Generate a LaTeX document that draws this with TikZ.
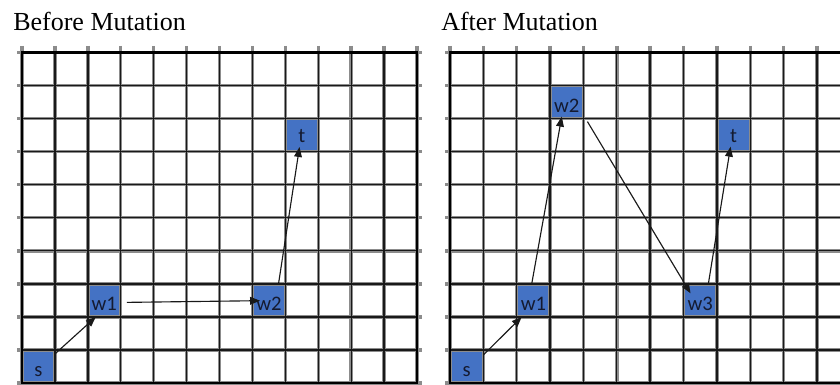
\documentclass[tikz,border=0pt]{standalone}
\usepackage{fontspec}
\setmainfont{Liberation Serif}
\newfontfamily\cellfont{Carlito}
\usetikzlibrary{arrows.meta}
\definecolor{cellblue}{HTML}{4472C4}
\definecolor{celltext}{HTML}{141A30}

% grid of 12 x 10 cells: #1 = left edge, #2 = cell width
\newcommand{\mkboard}[2]{%
  \foreach \i in {0,...,12}
    \draw[halo] ({#1+\i*#2},46) -- ({#1+\i*#2},390);
  \foreach \j in {0,...,10}
    \draw[halo] ({#1-5},{52.5+\j*33.05}) -- ({#1+12*#2+5},{52.5+\j*33.05});
  \foreach \i in {1,...,11}
    \draw[gridline] ({#1+\i*#2},52.5) -- ({#1+\i*#2},383);
  \foreach \j in {1,...,9}
    \draw[gridline] (#1,{52.5+\j*33.05}) -- ({#1+12*#2},{52.5+\j*33.05});
  \draw[border] (#1,52.5) rectangle ({#1+12*#2},383);
}

\begin{document}
\begin{tikzpicture}[x=0.75pt,y=-0.75pt,
  title/.style={anchor=base west, inner sep=0pt, font=\fontsize{19.5}{23}\selectfont},
  lbl/.style={anchor=base, inner sep=0pt, text=celltext, font=\cellfont\fontsize{15.5}{18}\selectfont},
  cell/.style={fill=cellblue, draw=none, inner sep=0pt, outer sep=0pt, anchor=north west, minimum height=24.79pt},
  lcell/.style={cell, minimum width=24.69pt},
  rcell/.style={cell, minimum width=25.02pt},
  halo/.style={draw=black!45, line width=2.6pt},
  gridline/.style={draw=black!90, line width=1pt},
  border/.style={draw=black, line width=1.6pt},
  arr/.style={draw=black!90, line width=0.85pt, -{Triangle[length=7.5pt,width=5.8pt]}}
]
\useasboundingbox (0,0) rectangle (840,385);

% titles
\node[title] (tb) at (13,31) {Before Mutation};
\node[title] (ta) at (441,31) {After Mutation};

% highlighted cells, left board (before)
\node[lcell] (Ls)  at (22,{52.5+9*33.05}) {};
\node[lcell] (Lw1) at ({22+2*32.92},{52.5+7*33.05}) {};
\node[lcell] (Lw2) at ({22+7*32.92},{52.5+7*33.05}) {};
\node[lcell] (Lt)  at ({22+8*32.92},{52.5+2*33.05}) {};

% highlighted cells, right board (after)
\node[rcell] (Rs)  at (450,{52.5+9*33.05}) {};
\node[rcell] (Rw1) at ({450+2*33.36},{52.5+7*33.05}) {};
\node[rcell] (Rw2) at ({450+3*33.36},{52.5+1*33.05}) {};
\node[rcell] (Rw3) at ({450+7*33.36},{52.5+7*33.05}) {};
\node[rcell] (Rt)  at ({450+8*33.36},{52.5+2*33.05}) {};

% boards
\mkboard{22}{32.92}
\mkboard{450}{33.36}

% cell labels
\node[lbl] (Ls-l)  at ([yshift=4.9pt]Ls.south)  {s};
\node[lbl] (Lw1-l) at ([yshift=4.9pt]Lw1.south) {w1};
\node[lbl] (Lw2-l) at ([yshift=4.9pt]Lw2.south) {w2};
\node[lbl] (Lt-l)  at ([yshift=6.5pt]Lt.south)  {t};
\node[lbl] (Rs-l)  at ([yshift=4.9pt]Rs.south)  {s};
\node[lbl] (Rw1-l) at ([yshift=4.9pt]Rw1.south) {w1};
\node[lbl] (Rw2-l) at ([yshift=4.9pt]Rw2.south) {w2};
\node[lbl] (Rw3-l) at ([yshift=4.9pt]Rw3.south) {w3};
\node[lbl] (Rt-l)  at ([yshift=6.5pt]Rt.south)  {t};

% path before mutation
\draw[arr] ([shift={(0,4)}]Ls.north east) -- ([shift={(8,0)}]Lw1.south west);
\draw[arr] ([shift={(6,2)}]Lw1.east) -- ([shift={(7.6,0.3)}]Lw2.west);
\draw[arr] ([shift={(-7,1)}]Lw2.north east) -- ([shift={(-2.3,-4.7)}]Lt.south);

% path after mutation
\draw[arr] ([shift={(0,5)}]Rs.north east) -- ([shift={(5,0)}]Rw1.south west);
\draw[arr] ([shift={(-1.5,-1)}]Rw1.north) -- ([shift={(-5,-2)}]Rw2.south);
\draw[arr] ([shift={(4,3)}]Rw2.south east) -- ([shift={(7,9.5)}]Rw3.north west);
\draw[arr] ([shift={(8,1)}]Rw3.north) -- ([shift={(-3,-5)}]Rt.south);
\end{tikzpicture}
\end{document}
